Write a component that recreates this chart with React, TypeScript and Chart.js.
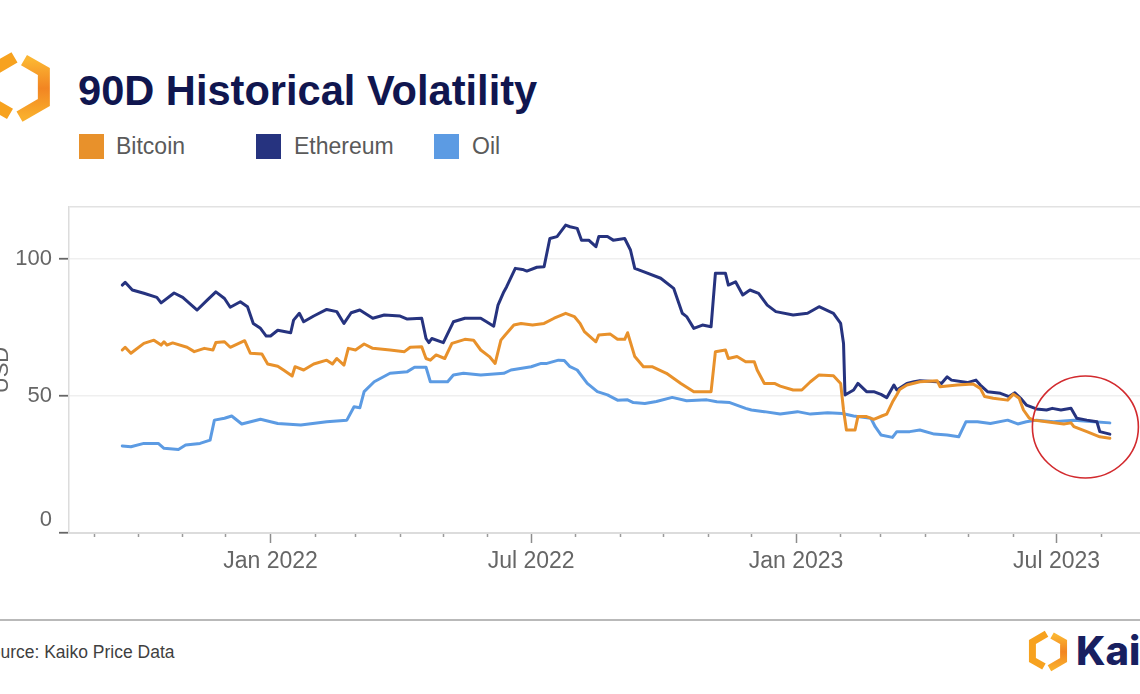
import React, { useEffect, useRef } from "react";
import { Chart, registerables } from "chart.js";

Chart.register(...registerables);

const FONT = "'Liberation Sans', Arial, Helvetica, sans-serif";

const seriesNames = ["Bitcoin", "Ethereum", "Oil"];
const seriesColors = ["#E8912B", "#26337F", "#5C9BE3"];

const btcDates = [
  "2021-09-20","2021-09-22","2021-09-26","2021-10-05","2021-10-12","2021-10-17","2021-10-19","2021-10-21","2021-10-25","2021-11-04",
  "2021-11-09","2021-11-16","2021-11-22","2021-11-24","2021-11-30","2021-12-04","2021-12-14","2021-12-18","2021-12-26","2021-12-30",
  "2022-01-06","2022-01-10","2022-01-16","2022-01-18","2022-01-24","2022-01-31","2022-02-09","2022-02-13","2022-02-16","2022-02-21",
  "2022-02-24","2022-03-01","2022-03-07","2022-03-13","2022-03-25","2022-04-04","2022-04-08","2022-04-16","2022-04-19","2022-04-22",
  "2022-04-26","2022-05-02","2022-05-07","2022-05-16","2022-05-22","2022-05-27","2022-06-02","2022-06-06","2022-06-10","2022-06-13",
  "2022-06-19","2022-06-24","2022-07-02","2022-07-10","2022-07-17","2022-07-25","2022-07-31","2022-08-04","2022-08-07","2022-08-15",
  "2022-08-17","2022-08-25","2022-08-30","2022-09-04","2022-09-06","2022-09-11","2022-09-17","2022-09-23","2022-10-03","2022-10-13",
  "2022-10-22","2022-11-03","2022-11-06","2022-11-13","2022-11-15","2022-11-21","2022-11-27","2022-12-03","2022-12-05","2022-12-10",
  "2022-12-17","2022-12-21","2022-12-30","2023-01-05","2023-01-11","2023-01-17","2023-01-27","2023-02-01","2023-02-03","2023-02-05",
  "2023-02-11","2023-02-13","2023-02-19","2023-02-24","2023-03-02","2023-03-05","2023-03-09","2023-03-12","2023-03-14","2023-03-19",
  "2023-03-28","2023-04-09","2023-04-11","2023-04-23","2023-05-04","2023-05-09","2023-05-12","2023-05-18","2023-05-28","2023-06-01",
  "2023-06-05","2023-06-08","2023-06-12","2023-06-15","2023-06-24","2023-07-06","2023-07-11","2023-07-13","2023-07-22","2023-07-31","2023-08-07",
];
const btcValues = [
  66.8,67.8,65.6,69.2,70.4,68.6,69.8,68.6,69.4,67.8,
  66.2,67.4,66.8,69.5,69.8,67.8,70.2,65.6,65.3,61.7,
  60.9,59.5,57.3,60.7,59.5,61.7,63.1,61.7,63.7,61.3,
  67.4,66.8,69,67.4,66.8,66.2,67.8,68,63.7,63.1,
  65,63.7,69.2,70.7,70.4,66.8,64.4,61.9,70.4,72.3,
  75.9,76.5,75.9,76.5,78.4,80.2,79,76.5,73.5,69.8,
  72.3,72.6,70.7,70.7,73.1,64.4,60.7,60.7,58.3,54.6,
  51.6,51.6,66.2,66.8,63.7,64.4,62.5,62.5,59.5,54.6,
  54.6,53.6,52.2,52.2,55.2,57.7,57.4,54.6,44.9,37.6,
  37.6,42.5,42.5,41.5,42.8,43.4,47.8,50.5,52.4,54,
  55.2,55.6,53.4,54,54.4,52.8,49.8,49.2,48.5,50.7,
  49.2,44.9,41.9,41.2,40.6,39.8,40.2,38.8,37,35.1,34.6,
];

const ethDates = [
  "2021-09-20","2021-09-22","2021-09-27","2021-10-05","2021-10-14","2021-10-17","2021-10-26","2021-11-01","2021-11-11","2021-11-18",
  "2021-11-24","2021-11-30","2021-12-04","2021-12-11","2021-12-16","2021-12-20","2021-12-25","2021-12-29","2022-01-01","2022-01-06",
  "2022-01-15","2022-01-17","2022-01-21","2022-01-24","2022-01-31","2022-02-09","2022-02-16","2022-02-21","2022-02-26","2022-03-04",
  "2022-03-13","2022-03-21","2022-04-01","2022-04-06","2022-04-16","2022-04-19","2022-04-21","2022-04-23","2022-05-01","2022-05-08",
  "2022-05-16","2022-05-27","2022-05-31","2022-06-05","2022-06-08","2022-06-12","2022-06-14","2022-06-20","2022-06-25","2022-06-28",
  "2022-07-05","2022-07-10","2022-07-14","2022-07-19","2022-07-25","2022-07-28","2022-08-02","2022-08-05","2022-08-10","2022-08-15",
  "2022-08-17","2022-08-23","2022-08-27","2022-09-04","2022-09-08","2022-09-11","2022-09-17","2022-09-29","2022-10-08","2022-10-14",
  "2022-10-17","2022-10-22","2022-10-28","2022-11-03","2022-11-06","2022-11-13","2022-11-15","2022-11-20","2022-11-25","2022-11-30",
  "2022-12-06","2022-12-12","2022-12-18","2022-12-30","2023-01-09","2023-01-17","2023-01-27","2023-02-01","2023-02-03","2023-02-04",
  "2023-02-10","2023-02-13","2023-02-19","2023-02-24","2023-03-01","2023-03-05","2023-03-10","2023-03-12","2023-03-19","2023-03-24",
  "2023-03-28","2023-04-09","2023-04-12","2023-04-16","2023-04-19","2023-04-30","2023-05-06","2023-05-09","2023-05-14","2023-05-23",
  "2023-05-29","2023-06-02","2023-06-06","2023-06-10","2023-06-17","2023-06-24","2023-06-28","2023-07-04","2023-07-11","2023-07-15",
  "2023-07-22","2023-07-29","2023-07-31","2023-08-07",
];
const ethValues = [
  90.5,91.5,88.7,87.5,86,84,87.6,86,81.4,85,
  88,85.6,82.4,84.4,82.6,76.5,74.7,71.9,71.9,74,
  73.1,77.7,80.2,77.1,79.2,81.6,80.8,76.5,80.4,81.4,
  78.4,79.6,79.2,78.1,78.4,71,69.5,71,69.5,77.1,
  78.4,78.4,77.1,75.5,83.2,88,89.9,96.6,96.2,95.6,
  97,97.2,107.5,108.2,112.4,111.8,111.2,106.9,106.9,104.5,
  108.2,108.2,106.9,107.5,103.3,96.6,95.4,93,89.3,80.2,
  79,74.7,75.9,75.3,94.8,94.8,90.5,91.7,86.9,88.7,
  87.5,83.2,80.8,79.6,80.2,82.6,80.2,76.5,69.2,50.4,
  52.2,54.6,51.6,51.6,50.6,49.4,54,52.2,54.6,55.2,
  55.6,55.2,54.6,57,55.8,54.9,55.8,54,51.6,51,
  49.8,51.2,49.2,46.7,45.3,44.9,45.5,44.9,45.5,41.9,
  41.2,40.6,37,36.1,
];

const oilDates = [
  "2021-09-20","2021-09-26","2021-10-05","2021-10-15","2021-10-19","2021-10-29","2021-11-03","2021-11-13","2021-11-20","2021-11-23",
  "2021-11-30","2021-12-05","2021-12-12","2021-12-25","2022-01-06","2022-01-22","2022-02-09","2022-02-23","2022-02-28","2022-03-04",
  "2022-03-07","2022-03-14","2022-03-25","2022-04-06","2022-04-11","2022-04-19","2022-04-22","2022-05-04","2022-05-08","2022-05-15",
  "2022-05-27","2022-06-12","2022-06-17","2022-07-01","2022-07-08","2022-07-12","2022-07-20","2022-07-24","2022-07-28","2022-08-02",
  "2022-08-09","2022-08-16","2022-08-23","2022-08-30","2022-09-06","2022-09-10","2022-09-18","2022-09-26","2022-10-07","2022-10-17",
  "2022-10-31","2022-11-07","2022-11-16","2022-11-27","2022-12-01","2022-12-10","2022-12-21","2023-01-02","2023-01-11","2023-01-23",
  "2023-02-02","2023-02-10","2023-02-22","2023-02-25","2023-03-01","2023-03-09","2023-03-12","2023-03-21","2023-03-28","2023-04-07",
  "2023-04-16","2023-04-24","2023-04-29","2023-05-07","2023-05-16","2023-05-28","2023-06-04","2023-06-10","2023-06-17","2023-06-29",
  "2023-07-13","2023-07-27","2023-08-07",
];
const oilValues = [
  31.8,31.5,32.7,32.7,30.9,30.5,32.1,32.7,33.9,41.2,
  41.9,42.7,39.8,41.5,40,39.4,40.6,41.2,46.1,45.7,
  51.6,55.2,58.3,58.9,60.5,60.5,55.2,55.2,57.7,58.3,
  57.7,58.3,59.5,60.7,61.9,61.9,63.1,63,60.7,59.5,
  54.6,51.6,50.4,48.5,48.6,47.6,47.3,48,49.5,48.3,
  48.6,47.9,47.6,45.5,44.9,44.3,43.4,44.3,43.4,43.9,
  43.6,42.7,41.9,38.8,35.8,34.9,37,37,37.6,36.1,
  35.8,35.1,40.6,40.6,40,41.2,39.8,40.6,41.2,40.6,
  41.2,40.6,40.2,
];

const xTickDates = [
  "2021-09-01","2021-10-01","2021-11-01","2021-12-01","2022-01-01","2022-02-01","2022-03-01","2022-04-01","2022-05-01",
  "2022-06-01","2022-07-01","2022-08-01","2022-09-01","2022-10-01","2022-11-01","2022-12-01","2023-01-01","2023-02-01",
  "2023-03-01","2023-04-01","2023-05-01","2023-06-01","2023-07-01","2023-08-01","2023-09-01",
];
const xTickLabels = [
  "","","","","Jan 2022","","","","",
  "","Jul 2022","","","","","","Jan 2023","",
  "","","","","Jul 2023","","",
];
const xRangeStart = "2021-08-14";
const xRangeEnd = "2023-11-04";
const yTickValues = [0, 50, 100];
const yAxisMax = 119;
const yAxisTitle = "USD";
const highlightDate = "2023-07-21";
const highlightValue = 38.7;

const dayNum = (s: string) => {
  const [y, m, d] = s.split("-").map(Number);
  return (Date.UTC(y, m - 1, d) - Date.UTC(2022, 0, 1)) / 86400000;
};

// Kaiko mark: pointy-top hexagon split into two brackets
const HEX_R = [
  [7, -26.9], [26.85, -15.5], [26.85, 15.5], [2.5, 29.6],
];
const HEX_L = [
  [-7, 26.9], [-26.85, 15.5], [-26.85, -15.5], [-2.5, -29.6],
];
const pts = (a: number[][]) => a.map((p) => p.join(",")).join(" ");

function KaikoIcon({ x, y, s, id }: { x: number; y: number; s: number; id: string }) {
  return (
    <g transform={`translate(${x},${y}) scale(${s})`}>
      <defs>
        <linearGradient id={id} x1="0" y1="0" x2="0" y2="1">
          <stop offset="0" stopColor="#FBB532" />
          <stop offset="0.5" stopColor="#F28522" />
          <stop offset="1" stopColor="#F9AE2C" />
        </linearGradient>
      </defs>
      <polyline points={pts(HEX_L)} fill="none" stroke="#F7A21F" strokeWidth={12} strokeLinejoin="miter" />
      <polyline points={pts(HEX_R)} fill="none" stroke={`url(#${id})`} strokeWidth={12} strokeLinejoin="miter" />
    </g>
  );
}

export default function App() {
  const canvasRef = useRef<HTMLCanvasElement | null>(null);

  useEffect(() => {
    const canvas = canvasRef.current;
    if (!canvas) return;
    const toPoints = (dates: string[], values: number[]) =>
      dates.slice(0, Math.min(dates.length, values.length)).map((d, i) => ({ x: dayNum(d), y: values[i] }));

    const highlightPlugin = {
      id: "highlightEllipse",
      afterDatasetsDraw(chart: any) {
        const { ctx, scales } = chart;
        const cx = scales.x.getPixelForValue(dayNum(highlightDate));
        const cy = scales.y.getPixelForValue(highlightValue);
        ctx.save();
        ctx.beginPath();
        ctx.ellipse(cx, cy, 53, 51, 0, 0, Math.PI * 2);
        ctx.strokeStyle = "#D22A2E";
        ctx.lineWidth = 1.6;
        ctx.stroke();
        ctx.restore();
      },
    };

    const isMajor = (i: number) => !!xTickLabels[i];

    const chart = new Chart(canvas, {
      type: "line",
      data: {
        datasets: [
          { label: seriesNames[0], data: toPoints(btcDates, btcValues), borderColor: seriesColors[0], backgroundColor: seriesColors[0] },
          { label: seriesNames[1], data: toPoints(ethDates, ethValues), borderColor: seriesColors[1], backgroundColor: seriesColors[1] },
          { label: seriesNames[2], data: toPoints(oilDates, oilValues), borderColor: seriesColors[2], backgroundColor: seriesColors[2] },
        ],
      },
      options: {
        responsive: false,
        animation: false,
        layout: { padding: { top: 27, left: 0, right: 0, bottom: 0 } },
        plugins: { legend: { display: false }, tooltip: { enabled: false } },
        elements: {
          point: { radius: 0 },
          line: { borderWidth: 3, tension: 0, borderJoinStyle: "round", borderCapStyle: "round" },
        },
        scales: {
          x: {
            type: "linear",
            min: dayNum(xRangeStart),
            max: dayNum(xRangeEnd),
            afterFit: (s: any) => { s.height = 67; },
            afterBuildTicks: (s: any) => { s.ticks = xTickDates.map((d) => ({ value: dayNum(d) })); },
            ticks: {
              autoSkip: false,
              maxRotation: 0,
              minRotation: 0,
              padding: 5,
              color: "#666666",
              font: { family: FONT, size: 23 },
              callback: (v: any) => {
                const i = xTickDates.findIndex((d) => dayNum(d) === v);
                return i >= 0 ? xTickLabels[i] : "";
              },
            },
            grid: {
              drawOnChartArea: false,
              drawTicks: true,
              tickLength: 10,
              tickColor: (c: any) => (isMajor(c.index) ? "#8c8c8c" : "#9a9a9a"),
              tickWidth: 1.5,
              tickBorderDash: (c: any) => (isMajor(c.index) ? [] : [3, 60]),
            },
            border: { display: true, color: "#dcdcdc", width: 2 },
          },
          y: {
            min: 0,
            max: yAxisMax,
            afterFit: (s: any) => { s.width = 89; },
            afterBuildTicks: (s: any) => {
              s.ticks = [...yTickValues.map((v) => ({ value: v })), { value: yAxisMax }];
            },
            ticks: {
              padding: 7,
              color: "#666666",
              font: { family: FONT, size: 22 },
              callback: (v: any) => (v === 0 ? ["0", ""] : yTickValues.includes(v) ? String(v) : ""),
            },
            grid: {
              color: (c: any) => (c.tick && c.tick.value === yAxisMax ? "#e2e2e2" : "#efefef"),
              lineWidth: 1.5,
              tickLength: 10,
              tickColor: (c: any) => (c.tick && c.tick.value === yAxisMax ? "rgba(0,0,0,0)" : "#666666"),
              tickWidth: 1.8,
            },
            border: { display: true, color: "#dcdcdc", width: 1.5 },
            title: {
              display: true,
              text: yAxisTitle,
              color: "#666666",
              font: { family: FONT, size: 22 },
              padding: { top: 9, bottom: 0 },
            },
          },
        },
      } as any,
      plugins: [highlightPlugin],
    });
    return () => chart.destroy();
  }, []);

  const legendSquareX = [79, 256, 434];
  const legendTextX = [116, 294, 472];

  return (
    <div
      style={{
        position: "fixed",
        left: 0,
        top: 0,
        width: 1140,
        height: 694,
        overflow: "hidden",
        background: "#ffffff",
        fontFamily: FONT,
      }}
    >
      <svg width={1140} height={694} style={{ position: "absolute", left: 0, top: 0 }}>
        <KaikoIcon x={17} y={87} s={1} id="kgTop" />
        <KaikoIcon x={1048} y={651} s={0.58} id="kgBottom" />
      </svg>
      <div
        style={{
          position: "absolute",
          left: 78,
          top: 70,
          fontSize: 41.6,
          lineHeight: "41px",
          fontWeight: 700,
          color: "#10164F",
          whiteSpace: "nowrap",
        }}
      >
        90D Historical Volatility
      </div>
      {seriesNames.map((name, i) => (
        <React.Fragment key={name}>
          <div
            style={{
              position: "absolute",
              left: legendSquareX[i],
              top: 134,
              width: 25,
              height: 25,
              background: seriesColors[i],
            }}
          />
          <div
            style={{
              position: "absolute",
              left: legendTextX[i],
              top: 134,
              fontSize: 23,
              lineHeight: "25px",
              color: "#5a5a5a",
              whiteSpace: "nowrap",
            }}
          >
            {name}
          </div>
        </React.Fragment>
      ))}
      <canvas
        ref={canvasRef}
        width={1258}
        height={420}
        style={{ position: "absolute", left: -20, top: 180, width: 1258, height: 420 }}
      />
      <div style={{ position: "absolute", left: 0, top: 619, width: 1140, height: 2, background: "#b9b9b9" }} />
      <div
        style={{
          position: "absolute",
          left: -21,
          top: 642,
          fontSize: 17.5,
          lineHeight: "20px",
          color: "#3f3f3f",
          whiteSpace: "nowrap",
        }}
      >
        Source: Kaiko Price Data
      </div>
      <div
        style={{
          position: "absolute",
          left: 1076,
          top: 631,
          fontSize: 40,
          lineHeight: "40px",
          fontWeight: 800,
          color: "#182060",
          whiteSpace: "nowrap",
          fontFamily: "Inter, 'Liberation Sans', sans-serif",
        }}
      >
        Kaiko
      </div>
    </div>
  );
}
